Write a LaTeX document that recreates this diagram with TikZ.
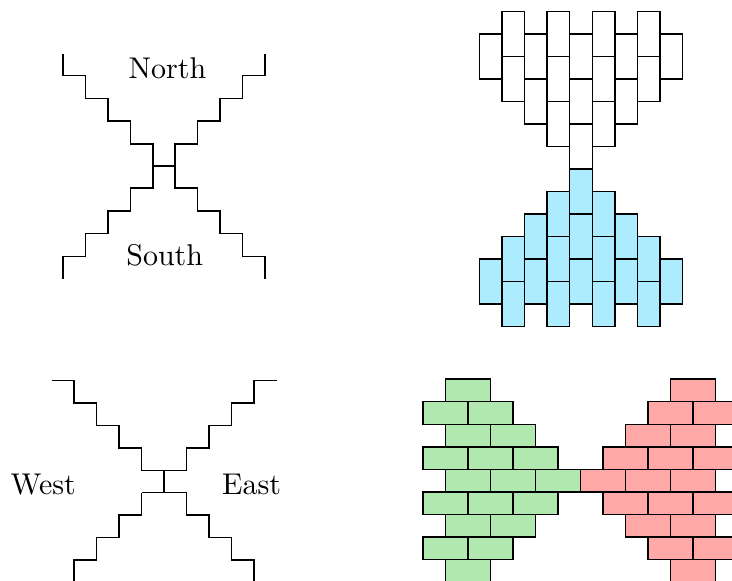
\documentclass[tikz,border=0pt]{standalone}
\definecolor{brickblue}{RGB}{173,236,255}
\definecolor{brickgreen}{RGB}{176,232,176}
\definecolor{brickred}{RGB}{255,168,168}
\tikzset{
  treeedge/.style={draw=black, line width=0.5pt},
  brick/.style={draw=black, line width=0.5pt},
  lbl/.style={anchor=base, inner sep=0pt, font=\fontsize{10}{12}\selectfont}
}
\begin{document}
\begin{tikzpicture}[x=0.333333pt,y=-0.333333pt]
\clip (0,0) rectangle (732,580);
\fill[white] (0,0) rectangle (732,580);

% ---------- top-left: North / South ----------
\coordinate (nsL) at (153,166);
\coordinate (nsR) at (175,166);
\draw[treeedge] (nsL) -- (nsR);
\draw[treeedge] (nsL) |- (130.5,144) |- (108,121) |- (85.5,98.5) |- (63,75.5) -- (63,53.5);
\draw[treeedge] (nsR) |- (197.5,144) |- (220,121) |- (242.5,98.5) |- (265,75.5) -- (265,53.5);
\draw[treeedge] (nsL) |- (130.5,188) |- (108,211) |- (85.5,233.5) |- (63,256.5) -- (63,278.5);
\draw[treeedge] (nsR) |- (197.5,188) |- (220,211) |- (242.5,233.5) |- (265,256.5) -- (265,278.5);
\node[lbl] (north) at (167.5,78.3) {North};
\node[lbl] (south) at (164.7,265.7) {South};

% ---------- bottom-left: West / East ----------
\coordinate (weT) at (164,470.7);
\coordinate (weB) at (164,492.7);
\draw[treeedge] (weT) -- (weB);
\draw[treeedge] (141.5,470.7) -- (186.5,470.7);
\draw[treeedge] (141.5,492.7) -- (186.5,492.7);
\draw[treeedge] (141.5,470.7) |- (119,448.2) |- (96.5,425.7) |- (74,403.2) |- (51.5,380.7);
\draw[treeedge] (186.5,470.7) |- (209,448.2) |- (231.5,425.7) |- (254,403.2) |- (276.5,380.7);
\draw[treeedge] (141.5,492.7) |- (119,515.2) |- (96.5,537.7) |- (74,560.2) -- (74,590);
\draw[treeedge] (186.5,492.7) |- (209,515.2) |- (231.5,537.7) |- (254,560.2) -- (254,590);
\node[lbl] (west) at (43.3,494) {West};
\node[lbl] (east) at (251.7,494) {East};

% ---------- top-right: vertical bricks ----------
\foreach \c/\r in {0/1, 1/0, 1/2, 2/1, 2/3, 3/0, 3/2, 3/4, 4/1, 4/3, 4/5,
                   5/0, 5/2, 5/4, 6/1, 6/3, 7/0, 7/2, 8/1}
  \draw[brick, fill=white] ({479.3+22.6*\c},{11.7+22.5*\r}) rectangle ++(22.6,45);
\foreach \c/\r in {4/0, 4/2, 4/4, 3/1, 3/3, 3/5, 5/1, 5/3, 5/5,
                   2/2, 2/4, 6/2, 6/4, 1/3, 1/5, 7/3, 7/5, 0/4, 8/4}
  \draw[brick, fill=brickblue] ({479.3+22.6*\c},{169.2+22.5*\r}) rectangle ++(22.6,45);

% ---------- bottom-right: horizontal bricks ----------
\foreach \r/\k in {0/1, 1/0, 1/2, 2/1, 2/3, 3/0, 3/2, 3/4, 4/1, 4/3, 4/5,
                   5/0, 5/2, 5/4, 6/1, 6/3, 7/0, 7/2, 8/1}{
  \draw[brick, fill=brickgreen] ({423+22.52*\k},{379.2+22.52*\r}) rectangle ++(45,22.52);
  \draw[brick, fill=brickred] ({423+22.52*(12-\k)},{379.2+22.52*\r}) rectangle ++(45,22.52);
}
\end{tikzpicture}
\end{document}
